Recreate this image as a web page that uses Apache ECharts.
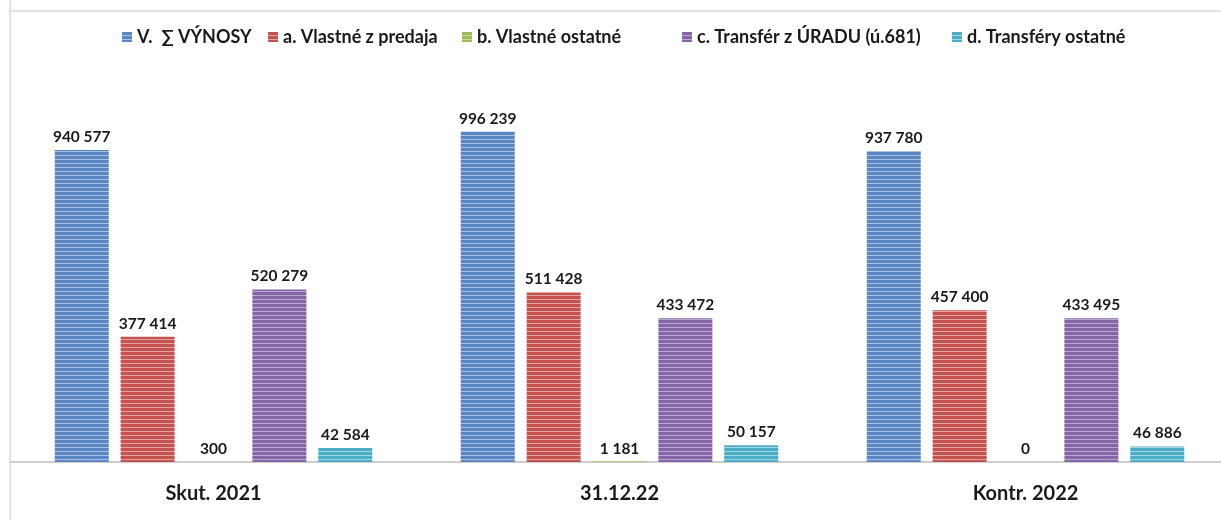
<!DOCTYPE html>
<html>
<head>
<meta charset="utf-8">
<script src="https://cdn.jsdelivr.net/npm/echarts@6/dist/echarts.min.js"></script>
<style>
  html, body { margin: 0; padding: 0; background: #fff; }
  #chart { width: 1221px; height: 520px; }
</style>
</head>
<body>
<div id="chart"></div>
<script>
// kategórie a hodnoty (EUR)
const categories = ['Skut. 2021', '31.12.22', 'Kontr. 2022']
const seriesNames = ['V.  \u2211 VÝNOSY', 'a. Vlastné z predaja', 'b. Vlastné ostatné', 'c. Transfér z ÚRADU (ú.681)', 'd. Transféry ostatné']
const vynosy = [940577, 996239, 937780]
const predaj = [377414, 511428, 457400]
const ostatne = [300, 1181, 0]
const transferUrad = [520279, 433472, 433495]
const transferyOstatne = [42584, 50157, 46886]

const colors = [
  ['#5a86c3', '#a8c0e2'],
  ['#c4524f', '#e3a3a1'],
  ['#9bbb59', '#cadca5'],
  ['#8466a6', '#bba8d0'],
  ['#4cadc7', '#a3d6e3']
]

// vodorovne pruhy ako v exceli
const stripes = (base, light) => {
  const c = document.createElement('canvas')
  c.width = 4
  c.height = 4
  const ctx = c.getContext('2d')
  ctx.fillStyle = base
  ctx.fillRect(0, 0, 4, 4)
  ctx.fillStyle = light
  ctx.fillRect(0, 3, 4, 1)
  return { image: c, repeat: 'repeat' }
}

const fmt = v => String(v).replace(/\B(?=(\d{3})+(?!\d))/g, ' ')

const font = 'Lato'
const data = [vynosy, predaj, ostatne, transferUrad, transferyOstatne]
const legendLeft = [122, 268, 462, 682, 952]

const option = {
  animation: false,
  textStyle: { fontFamily: font },
  legend: seriesNames.map((n, i) => ({
    data: [{ name: n, icon: 'rect' }],
    left: legendLeft[i],
    top: 28,
    padding: 0,
    itemWidth: 10,
    itemHeight: 10,
    itemGap: 5,
    selectedMode: false,
    textStyle: { fontFamily: font, fontWeight: 'bold', fontSize: 18, color: '#1a1a1a' }
  })),
  grid: { left: 10.5, width: 1218, top: 64, bottom: 58, outerBoundsMode: 'none' },
  xAxis: {
    type: 'category',
    data: categories,
    axisLine: { lineStyle: { color: '#bfbfbf', width: 1.5 } },
    axisTick: { show: false },
    axisLabel: { margin: 22, fontFamily: font, fontWeight: 'bold', fontSize: 20, color: '#1a1a1a' }
  },
  yAxis: {
    type: 'value',
    min: 0,
    max: 1200000,
    show: false
  },
  series: seriesNames.map((n, i) => ({
    name: n,
    type: 'bar',
    data: data[i],
    barWidth: 54,
    barGap: '22%',
    itemStyle: { color: stripes(colors[i][0], colors[i][1]) },
    label: {
      show: true,
      position: 'top',
      distance: 5,
      formatter: p => fmt(p.value),
      fontFamily: font,
      fontWeight: 'bold',
      fontSize: 15.5,
      color: '#1a1a1a'
    }
  })),
  graphic: [
    { type: 'line', shape: { x1: 10, y1: 0, x2: 10, y2: 520 }, style: { stroke: '#d9d9d9', lineWidth: 1.5 } },
    { type: 'line', shape: { x1: 10, y1: 11, x2: 1221, y2: 11 }, style: { stroke: '#d9d9d9', lineWidth: 1.5 } }
  ]
}

const myChart = echarts.init(document.getElementById('chart'))
myChart.setOption(option)
</script>
</body>
</html>
